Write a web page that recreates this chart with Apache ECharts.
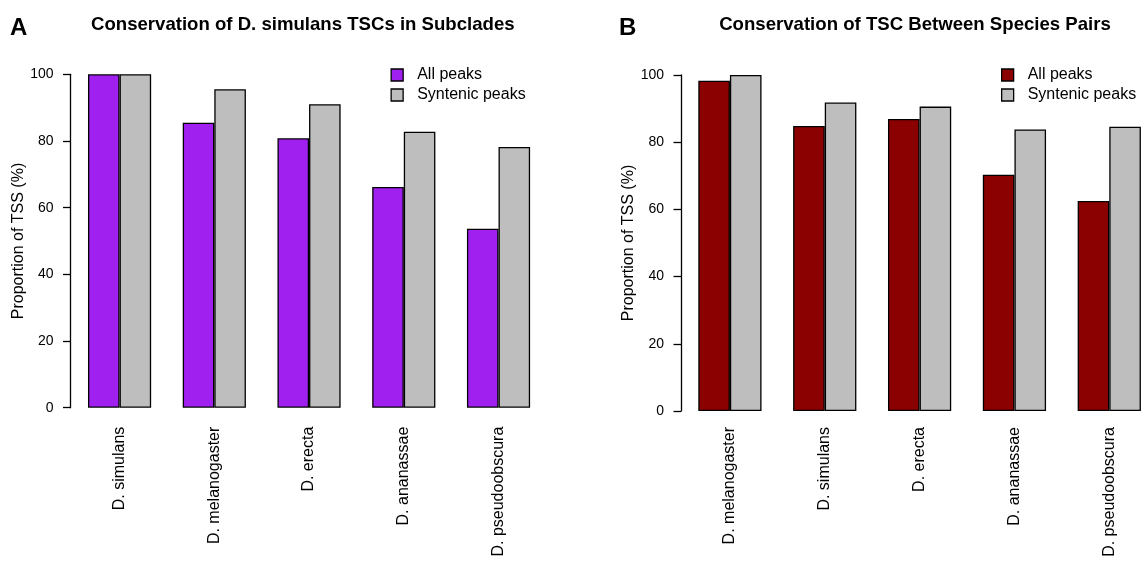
<!DOCTYPE html>
<html>
<head>
<meta charset="utf-8">
<script src="https://cdn.jsdelivr.net/npm/echarts@6/dist/echarts.min.js"></script>
<style>html,body{margin:0;padding:0;background:#fff;overflow:hidden;}#c{width:1170px;height:563px;}</style>
</head>
<body>
<div id="c"></div>
<script>
const catsA = ['D. simulans', 'D. melanogaster', 'D. erecta', 'D. ananassae', 'D. pseudoobscura'];
const allA = [100, 85.5, 80.8, 66.2, 53.7];
const synA = [100, 95.5, 91.0, 82.8, 78.2];
const catsB = ['D. melanogaster', 'D. simulans', 'D. erecta', 'D. ananassae', 'D. pseudoobscura'];
const allB = [98.3, 84.8, 86.9, 70.3, 62.5];
const synB = [100, 91.8, 90.6, 83.8, 84.6];
const yTicks = [0, 20, 40, 60, 80, 100];
const titleA = 'Conservation of D. simulans TSCs in Subclades';
const titleB = 'Conservation of TSC Between Species Pairs';
const seriesNames = ['All peaks', 'Syntenic peaks'];

const FONT = '"Liberation Sans", Arial, Helvetica, sans-serif';
const PURPLE = '#A020F0', DARKRED = '#8B0000', GRAY = '#BEBEBE';

const chart = echarts.init(document.getElementById('c'), null, {renderer: 'canvas'});

function xAx(idx, cats, margin) {
  return {
    type: 'category', gridIndex: idx, data: cats,
    axisLine: {show: false}, axisTick: {show: false},
    axisLabel: {rotate: 90, margin: margin, fontSize: 16, color: '#000', fontFamily: FONT, interval: 0}
  };
}
function yAx(idx, offset, gap) {
  return {
    type: 'value', gridIndex: idx, min: yTicks[0], max: yTicks[yTicks.length - 1], interval: 20,
    offset: offset,
    name: 'Proportion of TSS (%)', nameLocation: 'middle', nameGap: gap,
    nameTextStyle: {fontSize: 16, color: '#000', fontFamily: FONT},
    axisLine: {show: true, lineStyle: {color: '#000', width: 1.3}},
    axisTick: {show: true, length: 7.5, lineStyle: {color: '#000', width: 1.3}},
    axisLabel: {fontSize: 14, color: '#000', margin: 17, fontFamily: FONT},
    splitLine: {show: false}
  };
}
function bar(name, idx, data, color) {
  return {
    name: name, type: 'bar', xAxisIndex: idx, yAxisIndex: idx, data: data,
    barGap: '0%', barCategoryGap: '33.333%',
    itemStyle: {color: color, borderColor: '#000', borderWidth: 1.3},
    emphasis: {disabled: true}, animation: false
  };
}
function legend(left, color) {
  return {
    orient: 'vertical', left: left, top: 65.5, padding: 0, itemWidth: 12, itemHeight: 12, itemGap: 1,
    icon: 'rect',
    data: [
      {name: seriesNames[0], itemStyle: {color: color, borderColor: '#000', borderWidth: 1.3}},
      {name: seriesNames[1], itemStyle: {color: GRAY, borderColor: '#000', borderWidth: 1.3}}
    ],
    textStyle: {fontSize: 16, color: '#000', fontFamily: FONT, lineHeight: 19, padding: [0, 0, 0, 9]},
    selectedMode: false
  };
}
const tStyle = {fontSize: 18.6, fontWeight: 'bold', color: '#000', fontFamily: FONT};
const lStyle = {fontSize: 24, fontWeight: 'bold', color: '#000', fontFamily: FONT};

chart.setOption({
  animation: false,
  backgroundColor: '#fff',
  title: [
    {text: titleA, left: 302.8, top: 15.5, padding: 0, textAlign: 'center', textStyle: tStyle},
    {text: titleB, left: 915, top: 15.5, padding: 0, textAlign: 'center', textStyle: tStyle},
    {text: 'A', left: 10, top: 16, padding: 0, textStyle: lStyle},
    {text: 'B', left: 619, top: 16, padding: 0, textStyle: lStyle}
  ],
  legend: [legend(390.5, PURPLE), legend(1001, DARKRED)],
  grid: [
    {left: 72.2, top: 74.3, width: 473.7, height: 333.4},
    {left: 682.5, top: 75, width: 474.2, height: 336}
  ],
  xAxis: [xAx(0, catsA, 19), xAx(1, catsB, 16)],
  yAxis: [yAx(0, 1.7, 40), yAx(1, 1.5, 38)],
  series: [
    bar(seriesNames[0], 0, allA, PURPLE),
    bar(seriesNames[1], 0, synA, GRAY),
    bar(seriesNames[0], 1, allB, DARKRED),
    bar(seriesNames[1], 1, synB, GRAY)
  ]
});
</script>
</body>
</html>
